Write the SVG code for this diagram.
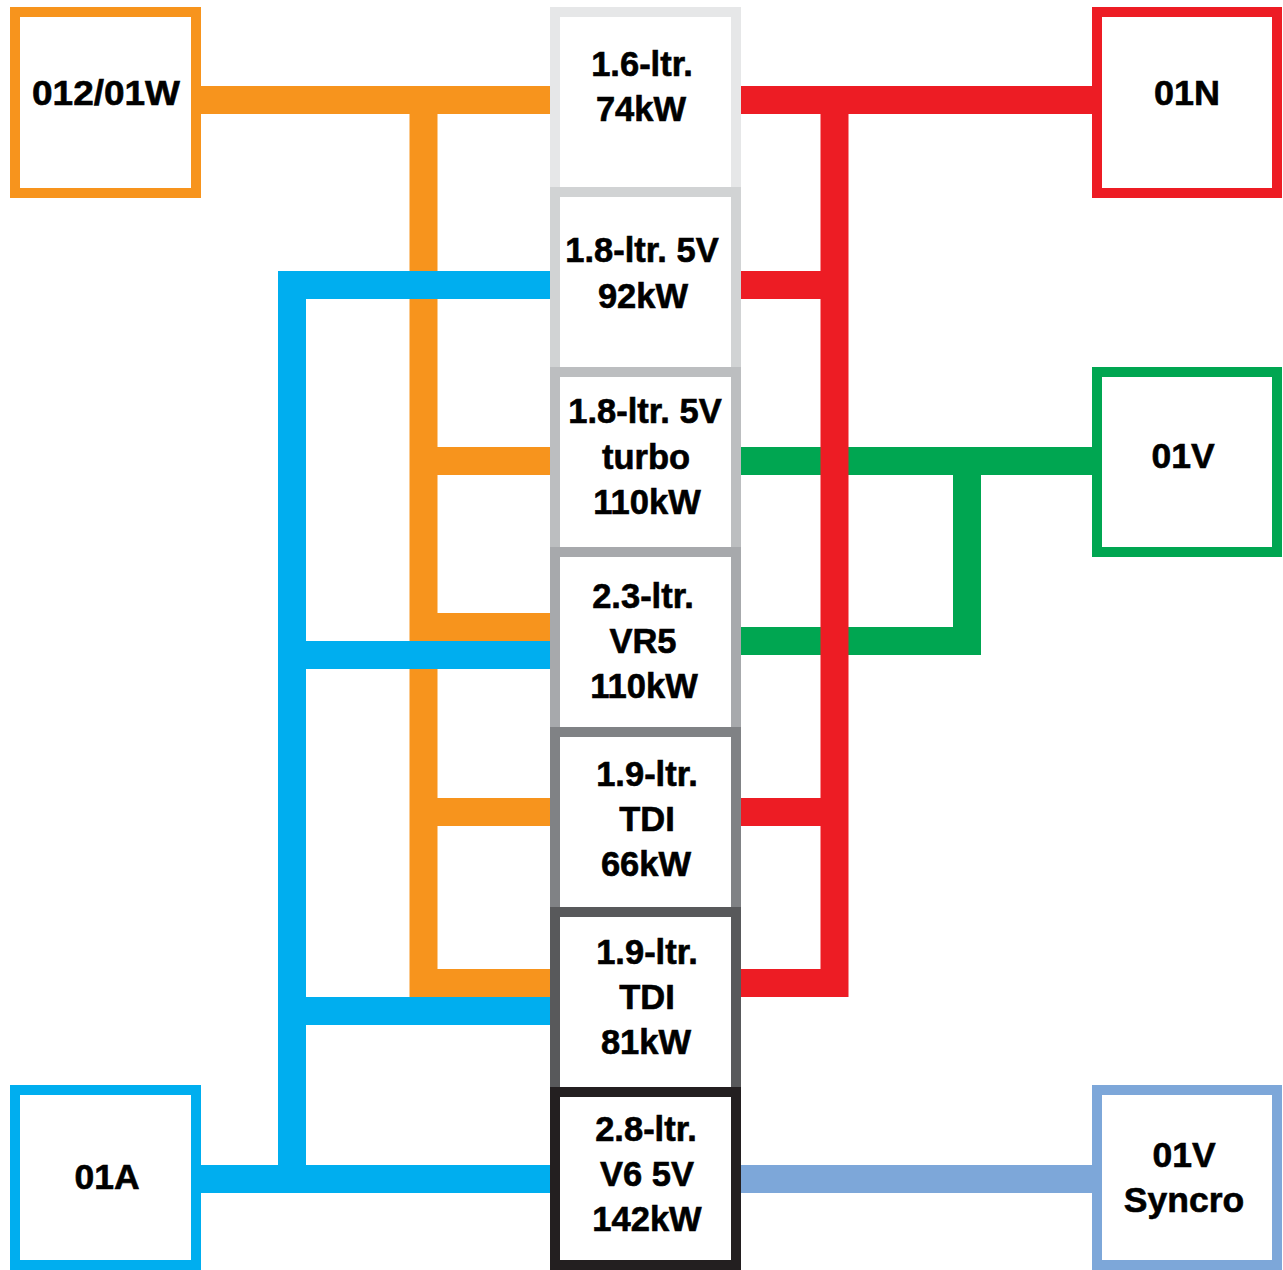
<svg xmlns="http://www.w3.org/2000/svg" width="1283" height="1270" viewBox="0 0 1283 1270">
<style>
.ln{fill:none;stroke-width:28;stroke-linecap:butt;stroke-linejoin:miter}
.or{stroke:#F7941D}.bl{stroke:#00AEEF}.rd{stroke:#ED1C24}.gr{stroke:#00A651}.lb{stroke:#7DA7D9}
.bx{fill:#fff;stroke-width:10}
.t{font-family:"Liberation Sans",Arial,sans-serif;font-weight:bold;font-size:34.5px;fill:#000;stroke:#000;stroke-width:0.6;text-anchor:middle}
.s{font-size:35.5px}
</style>
<rect width="1283" height="1270" fill="#fff"/>
<g id="connectors">
<path class="ln or" d="M201,100H550M423.5,100V983H550M423.5,461H550M423.5,627H550M423.5,812H550"/>
<path class="ln bl" d="M550,285H292V1179M201,1179H550M292,655H550M292,1011H550"/>
<path class="ln gr" d="M741,461H1092M967,461V641H741"/>
<path class="ln rd" d="M741,100H1092M834.5,100V983H741M741,285H834.5M741,812H834.5"/>
<path class="ln lb" d="M741,1179H1092"/>
</g>
<g id="n012">
<rect class="bx" x="15" y="12" width="181" height="181" stroke="#F7941D"/>
<text class="t s" x="106" y="105" textLength="148" lengthAdjust="spacingAndGlyphs">012/01W</text>
</g>
<g id="n01N">
<rect class="bx" x="1097" y="12" width="180" height="181" stroke="#ED1C24"/>
<text class="t s" x="1187" y="105" textLength="66" lengthAdjust="spacingAndGlyphs">01N</text>
</g>
<g id="n01V">
<rect class="bx" x="1097" y="372" width="180" height="180" stroke="#00A651"/>
<text class="t s" x="1183" y="468">01V</text>
</g>
<g id="n01A">
<rect class="bx" x="15" y="1090" width="181" height="175" stroke="#00AEEF"/>
<text class="t s" x="107" y="1189">01A</text>
</g>
<g id="n01VS">
<rect class="bx" x="1097" y="1090" width="180" height="175" stroke="#7DA7D9"/>
<text class="t s" x="1184" y="1167">01V</text>
<text class="t s" x="1184" y="1212">Syncro</text>
</g>
<g id="e1">
<rect class="bx" x="555" y="12" width="181" height="180" stroke="#E6E7E8"/>
<text class="t" x="642" y="76">1.6-ltr.</text>
<text class="t" x="641" y="121">74kW</text>
</g>
<g id="e2">
<rect class="bx" x="555" y="192" width="181" height="180" stroke="#D1D3D4"/>
<text class="t" x="642" y="262">1.8-ltr. 5V</text>
<text class="t" x="643" y="308">92kW</text>
</g>
<g id="e3">
<rect class="bx" x="555" y="372" width="181" height="180" stroke="#BCBEC0"/>
<text class="t" x="645" y="423">1.8-ltr. 5V</text>
<text class="t" x="646" y="469">turbo</text>
<text class="t" x="647" y="514">110kW</text>
</g>
<g id="e4">
<rect class="bx" x="555" y="552" width="181" height="180" stroke="#A7A9AC"/>
<text class="t" x="643" y="608">2.3-ltr.</text>
<text class="t" x="643" y="653">VR5</text>
<text class="t" x="644" y="698">110kW</text>
</g>
<g id="e5">
<rect class="bx" x="555" y="732" width="181" height="180" stroke="#808285"/>
<text class="t" x="647" y="786">1.9-ltr.</text>
<text class="t" x="647" y="831">TDI</text>
<text class="t" x="646" y="876">66kW</text>
</g>
<g id="e6">
<rect class="bx" x="555" y="912" width="181" height="180" stroke="#58595B"/>
<text class="t" x="647" y="964">1.9-ltr.</text>
<text class="t" x="647" y="1009">TDI</text>
<text class="t" x="646" y="1054">81kW</text>
</g>
<g id="e7">
<rect class="bx" x="555" y="1092" width="181" height="173" stroke="#231F20"/>
<text class="t" x="646" y="1141">2.8-ltr.</text>
<text class="t" x="647" y="1186">V6 5V</text>
<text class="t" x="647" y="1231">142kW</text>
</g>
</svg>
